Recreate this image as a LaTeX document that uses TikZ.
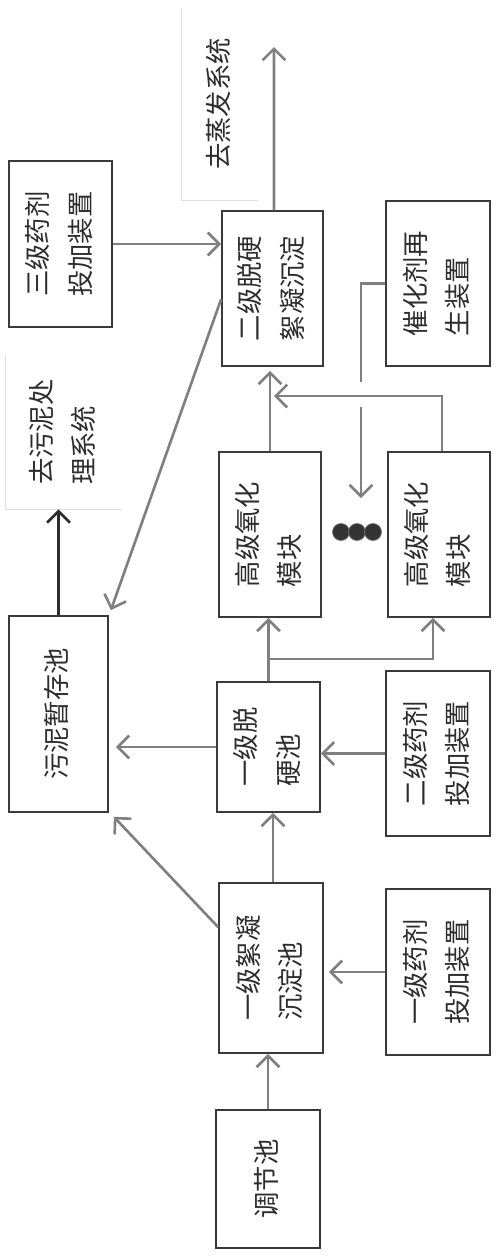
\documentclass[tikz,border=0pt]{standalone}
\usepackage{fontspec}
\usepackage{graphicx}
\usepackage{tikz}
\usetikzlibrary{arrows.meta}
\newfontfamily\cjk{Noto Sans CJK SC}
\definecolor{boxgray}{RGB}{58, 58, 58}
\definecolor{flowgray}{RGB}{128, 128, 128}
\definecolor{textgray}{RGB}{45, 45, 45}
\definecolor{faintgray}{RGB}{222, 222, 222}
\newcommand{\rottext}[1]{\rotatebox{90}{\begin{tabular}{@{}l@{}}#1\end{tabular}}}

\begin{document}
\begin{tikzpicture}[
    x=0.02cm, y=-0.02cm,
    unit/.style={rectangle, draw=boxgray, line width=1pt, text=textgray,
                 inner sep=0pt, font=\cjk\fontsize{15}{24}\selectfont},
    outlet/.style={rectangle, inner sep=0pt, text=textgray,
                   font=\cjk\fontsize{15}{24}\selectfont},
    flow/.style={draw=flowgray, line width=1.5pt,
                 -{Straight Barb[length=6.5pt, width=13pt, line width=1.5pt]}},
    pipe/.style={draw=flowgray, line width=1.5pt},
    dot/.style={circle, fill=black!80, draw=black!55, minimum size=0.34cm, inner sep=0pt}
]
    \useasboundingbox (0,0) rectangle (500,1258);

    % 主流程
    \node[unit, minimum width=2.08cm, minimum height=2.76cm] (adj) at (268,1179) {\rottext{调节池}};
    \node[unit, minimum width=2.08cm, minimum height=3.4cm] (floc1) at (271,968) {\rottext{一级絮凝\\沉淀池}};
    \node[unit, minimum width=2.06cm, minimum height=2.6cm] (soft1) at (268.5,747) {\rottext{一级脱\\硬池}};
    \node[unit, minimum width=2.04cm, minimum height=3.3cm] (aopA) at (270,534.5) {\rottext{高级氧化\\模块}};
    \node[unit, minimum width=2.04cm, minimum height=3.3cm] (aopB) at (439,534.5) {\rottext{高级氧化\\模块}};
    \node[unit, minimum width=2.02cm, minimum height=3.1cm] (soft2) at (272.5,288.5) {\rottext{二级脱硬\\絮凝沉淀}};

    % 药剂投加与催化剂再生
    \node[unit, minimum width=2.08cm, minimum height=3.32cm] (dose1) at (438,972) {\rottext{一级药剂\\投加装置}};
    \node[unit, minimum width=2.08cm, minimum height=3.3cm] (dose2) at (438,753.5) {\rottext{二级药剂\\投加装置}};
    \node[unit, minimum width=2.06cm, minimum height=3.32cm] (dose3) at (60.5,244) {\rottext{三级药剂\\投加装置}};
    \node[unit, minimum width=2.08cm, minimum height=3.3cm] (regen) at (438,283.5) {\rottext{催化剂再\\生装置}};

    % 污泥
    \node[unit, minimum width=1.98cm, minimum height=3.92cm] (sludge) at (58.5,714) {\rottext{污泥暂存池}};

    % 去向
    \node[outlet, minimum width=1.52cm, minimum height=3.84cm] (evap) at (220,104) {\rottext{去蒸发系统}};
    \node[outlet, minimum width=2.32cm, minimum height=3.08cm] (sludgeout) at (64,432) {\rottext{去污泥处\\理系统}};
    \draw[faintgray, line width=0.6pt] (evap.north west) |- (evap.south east);
    \draw[faintgray, line width=0.6pt] (sludgeout.north west) |- (sludgeout.south east);

    % 省略号
    \node[dot] (dotA) at (341,532) {};
    \node[dot] (dotB) at (357,532) {};
    \node[dot] (dotC) at (373,532) {};

    % 连接点
    \coordinate (split) at (270,659);
    \coordinate (merge) at (274,396);
    \coordinate (hopA) at (361,382);
    \coordinate (hopB) at (361,407);
    \coordinate (evapin) at (274,47);

    % 箭头
    \draw[flow] (adj.north) -- (adj.north |- floc1.south);
    \draw[flow] ([xshift=0.04cm]floc1.north) -- ([xshift=0.04cm]floc1.north |- soft1.south);
    \draw[flow] ([yshift=-0.9cm]floc1.north west) -- ([xshift=0.1cm, yshift=-0.08cm]sludge.south east);
    \draw[flow, shorten >=0.14cm] (soft1.west) -- (sludge.east |- soft1.west);
    \draw[flow] (dose2.west) -- (soft1.east |- dose2.west);
    \draw[flow, shorten >=0.1cm] (dose1.west) -- (floc1.east |- dose1.west);
    \draw[flow] (soft1.north) -- (soft1.north |- aopA.south);
    \draw[flow] (split) -| ([xshift=-0.12cm]aopB.south);
    \draw[flow, shorten >=0.08cm] (aopA.north) -- (aopA.north |- soft2.south);
    \draw[flow] ([xshift=0.06cm]aopB.north) |- (merge);
    \draw[pipe] (regen.west) -| (hopA);
    \draw[flow, shorten >=0.5cm] (hopB) -- (hopB |- dotB.north);
    \draw[flow] (dose3.east) -- (soft2.west |- dose3.east);
    \draw[flow] ([xshift=0.03cm]soft2.north) -- (evapin);
    \draw[flow] ([yshift=-1.78cm]soft2.north west) -- ([xshift=0.04cm, yshift=0.1cm]sludge.north east);
    \draw[flow, draw=textgray] (sludge.north) -- (sludge.north |- sludgeout.south);
\end{tikzpicture}
\end{document}
